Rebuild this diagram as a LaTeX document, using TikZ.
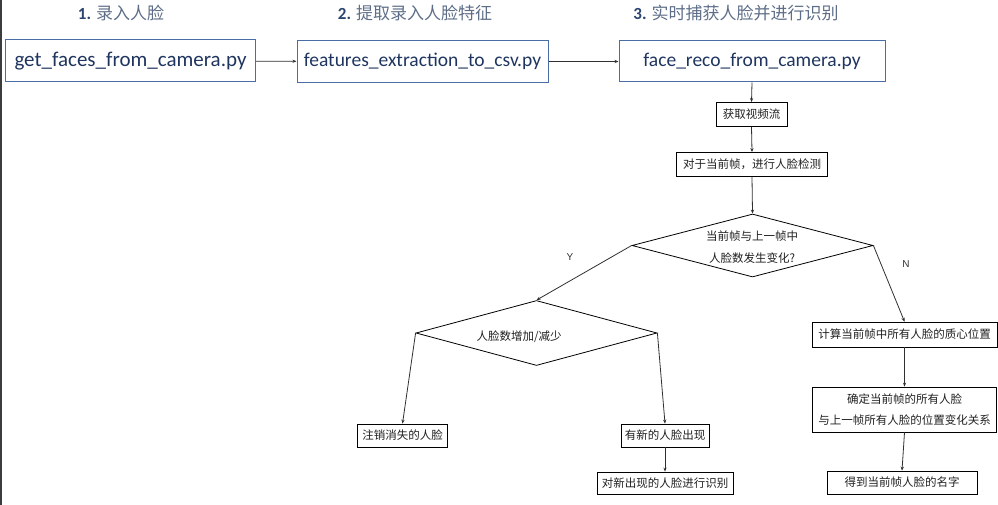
\documentclass[tikz,border=0pt]{standalone}
\usepackage{fontspec}
\setmainfont{Carlito}
\newfontfamily\cjk{Noto Sans CJK SC}
\newfontfamily\labf{Liberation Sans}
\usetikzlibrary{arrows.meta,shapes.geometric}
\definecolor{topborder}{HTML}{4A6DA7}
\definecolor{toptext}{HTML}{1F3560}
\definecolor{titlegray}{HTML}{5E6E88}
\definecolor{titlenum}{HTML}{2B4470}
\definecolor{linec}{HTML}{303030}
\definecolor{flowtext}{HTML}{202020}
\definecolor{leftbar}{HTML}{3A3D40}
\begin{document}
\begin{tikzpicture}[x=1pt,y=-1pt,
  topbox/.style={draw=topborder, line width=1pt, inner sep=0pt, text=toptext,
    font=\fontsize{19.5}{22}\selectfont},
  flowbox/.style={draw=black, line width=0.8pt, inner sep=0pt, text=flowtext,
    font=\cjk\fontsize{11.5}{21}\selectfont, align=center},
  flowtxt/.style={inner sep=0pt, text=flowtext, font=\cjk\fontsize{11.5}{22}\selectfont, align=center},
  titletxt/.style={inner sep=0pt, text=titlegray, font=\cjk\fontsize{17}{20}\selectfont},
  yn/.style={inner sep=0pt, text=linec, font=\labf\fontsize{10}{12}\selectfont},
  conn/.style={draw=linec, line width=0.8pt, -{Stealth[length=4pt,width=3.2pt]}},
  dec/.style={diamond, draw=black, line width=0.8pt, inner sep=0pt}
]
\useasboundingbox (0,0) rectangle (998,505);
\fill[leftbar] (0,0) rectangle (2,505);

% titles
\node[titletxt] (t1) at (121,13) {{\normalfont\bfseries\color{titlenum}1.} 录入人脸};
\node[titletxt] (t2) at (415,13) {{\normalfont\bfseries\color{titlenum}2.} 提取录入人脸特征};
\node[titletxt] (t3) at (736,13) {{\normalfont\bfseries\color{titlenum}3.} 实时捕获人脸并进行识别};

% top boxes
\node[topbox, minimum width=250pt, minimum height=42pt, font=\fontsize{21}{24}\selectfont] (b1) at (130.5,61) {get\_faces\_from\_camera.py};
\node[topbox, minimum width=251pt, minimum height=42pt] (b2) at (422.5,61.5) {features\_extraction\_to\_csv.py};
\node[topbox, minimum width=266pt, minimum height=41pt] (b3) at (752,61.5) {face\_reco\_from\_camera.py};

% flow
\node[flowbox, minimum width=71pt, minimum height=24pt] (huoqu) at (751.5,114.5) {获取视频流};
\node[flowbox, minimum width=151pt, minimum height=24pt] (duiyu) at (752,164.5) {对于当前帧，进行人脸检测};

\node[dec, minimum width=241pt, minimum height=63pt] (d1) at (752.5,245.5) {};
\node[flowtxt] (d1t) at (752,247) {当前帧与上一帧中\\人脸数发生变化?};

\node[dec, minimum width=241pt, minimum height=65pt] (d2) at (536.5,333) {};
\node[flowtxt] (d2t) at (519,337) {人脸数增加/减少};

\node[yn] (ylab) at (570,257) {Y};
\node[yn] (nlab) at (906,264) {N};

\node[flowbox, minimum width=185pt, minimum height=25pt] (calc) at (904.5,334.5) {计算当前帧中所有人脸的质心位置};
\node[flowbox, minimum width=184pt, minimum height=45pt] (qd) at (904.5,409.5) {确定当前帧的所有人脸\\与上一帧所有人脸的位置变化关系};
\node[flowbox, minimum width=150pt, minimum height=23pt] (last) at (902,482.5) {得到当前帧人脸的名字};

\node[flowbox, minimum width=90pt, minimum height=23pt] (zx) at (402.5,435.5) {注销消失的人脸};
\node[flowbox, minimum width=88pt, minimum height=23pt] (yx) at (665,435.5) {有新的人脸出现};
\node[flowbox, minimum width=136pt, minimum height=22pt] (dx) at (665,483) {对新出现的人脸进行识别};

% connectors
\draw[conn] (b1) -- (b2);
\draw[conn] (b2) -- (b3);
\draw[conn] (b3.south) -- (huoqu.north);
\draw[conn] (huoqu.south) -- (duiyu.north);
\draw[conn] (duiyu.south) -- (d1.north);
\draw[conn] (d1.west) -- (d2.north);
\draw[conn] (d1.east) -- (calc.north);
\draw[conn] (d2.west) -- (zx.north);
\draw[conn] (d2.east) -- (yx.north);
\draw[conn] (yx.south) -- (dx.north);
\draw[conn] (calc.south) -- (qd.north);
\draw[conn] (qd.south) -- (last.north);
\end{tikzpicture}
\end{document}
